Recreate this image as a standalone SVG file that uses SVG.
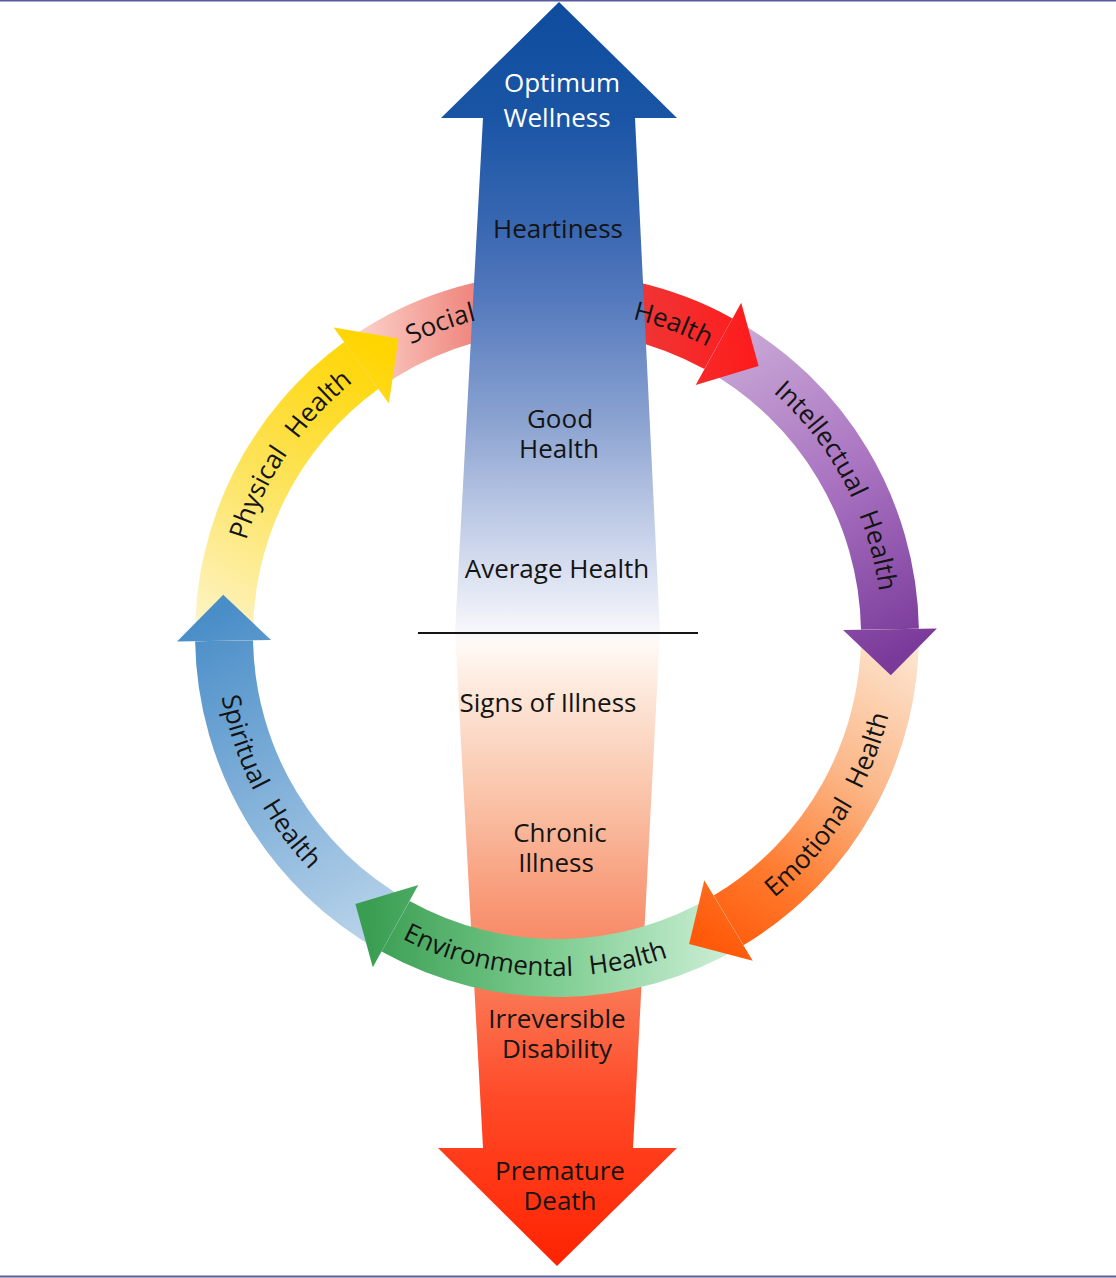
<svg xmlns="http://www.w3.org/2000/svg" width="1116" height="1278" viewBox="0 0 1116 1278">
<style>
.t{font-family:"Open Sans","Noto Sans","Liberation Sans",sans-serif;font-size:26px;fill:#141414;text-anchor:middle}
.w{fill:#ffffff}
.a{font-family:"Open Sans","Noto Sans","Liberation Sans",sans-serif;font-size:26px;fill:#141414;word-spacing:10px}
</style>
<defs>
<linearGradient id="gShaft" gradientUnits="userSpaceOnUse" x1="0" y1="0" x2="0" y2="1268">
<stop offset="0" stop-color="#0f4c9e"/>
<stop offset="0.093" stop-color="#1a55a5"/>
<stop offset="0.181" stop-color="#3a68b2"/>
<stop offset="0.236" stop-color="#5479bd"/>
<stop offset="0.331" stop-color="#8aa2d0"/>
<stop offset="0.409" stop-color="#bfcbe6"/>
<stop offset="0.472" stop-color="#e6eaf5"/>
<stop offset="0.498" stop-color="#f7f7fb"/>
<stop offset="0.508" stop-color="#fffaf6"/>
<stop offset="0.551" stop-color="#fde5d6"/>
<stop offset="0.630" stop-color="#fac3a8"/>
<stop offset="0.709" stop-color="#f89a78"/>
<stop offset="0.787" stop-color="#fb7451"/>
<stop offset="0.866" stop-color="#ff4a28"/>
<stop offset="1" stop-color="#ff2200"/>
</linearGradient>
<linearGradient id="gSocial" gradientUnits="userSpaceOnUse" x1="350" y1="360" x2="760" y2="340">
<stop offset="0" stop-color="#fcd8d0"/>
<stop offset="0.29" stop-color="#f08a82"/>
<stop offset="0.71" stop-color="#ef3535"/>
<stop offset="1" stop-color="#ff1a1a"/>
</linearGradient>
<linearGradient id="gPurple" gradientUnits="userSpaceOnUse" x1="718" y1="344" x2="890" y2="660">
<stop offset="0" stop-color="#c9a8d6"/>
<stop offset="0.5" stop-color="#a872c0"/>
<stop offset="1" stop-color="#7a3a9a"/>
</linearGradient>
<linearGradient id="gOrange" gradientUnits="userSpaceOnUse" x1="890" y1="630" x2="700" y2="935">
<stop offset="0" stop-color="#fde6d2"/>
<stop offset="0.4" stop-color="#fbb889"/>
<stop offset="0.75" stop-color="#ff7a2e"/>
<stop offset="1" stop-color="#ff5a0a"/>
</linearGradient>
<linearGradient id="gGreen" gradientUnits="userSpaceOnUse" x1="729" y1="920" x2="370" y2="915">
<stop offset="0" stop-color="#cbeed5"/>
<stop offset="0.5" stop-color="#7ccc8f"/>
<stop offset="1" stop-color="#3a9e52"/>
</linearGradient>
<linearGradient id="gBlue" gradientUnits="userSpaceOnUse" x1="396" y1="926" x2="224" y2="610">
<stop offset="0" stop-color="#b9d3ea"/>
<stop offset="1" stop-color="#4a8ec8"/>
</linearGradient>
<linearGradient id="gYellow" gradientUnits="userSpaceOnUse" x1="224" y1="641" x2="385" y2="350">
<stop offset="0" stop-color="#fdf4c8"/>
<stop offset="0.5" stop-color="#fde35a"/>
<stop offset="1" stop-color="#ffd500"/>
</linearGradient>
<path id="pSocial" d="M 261.2 500.2 A 325 325 0 0 1 691.8 339.2"/>
<path id="pHealthR" d="M 422.2 339.2 A 325 325 0 0 1 852.8 500.2"/>
<path id="pPhysical" d="M 238.0 697.0 A 325 325 0 0 1 495.0 316.0"/>
<path id="pIntellectual" d="M 652.0 324.2 A 325 325 0 0 1 867.8 730.0"/>
<path id="pEmotional" d="M 633.7 967.3 A 341 341 0 0 0 889.3 558.3"/>
<path id="pEnvironmental" d="M 299.6 858.7 A 341 341 0 0 0 780.7 892.4"/>
<path id="pSpiritual" d="M 232.7 529.6 A 341 341 0 0 0 451.6 959.3"/>
</defs>
<rect x="0" y="0" width="1116" height="1278" fill="#ffffff"/>
<line x1="0" y1="0.75" x2="1116" y2="0.75" stroke="#5b5b9b" stroke-width="1.5"/>
<line x1="0" y1="1276.5" x2="1116" y2="1276.5" stroke="#5b5b9b" stroke-width="2"/>

<g id="social-health-band">
<path d="M 344.2 342.1 A 362 362 0 0 1 732.5 318.4 L 704.4 369.1 A 304 304 0 0 0 378.3 389.1 Z" fill="url(#gSocial)"/>
</g>

<g id="wellness-continuum">
<path d="M 559 2 L 677 118 L 635 118 L 660 632 L 633 1148 L 677 1148 L 557 1266 L 438 1148 L 483 1148 L 455 632 L 483 118 L 441 118 Z" fill="url(#gShaft)"/>
<line x1="418" y1="633" x2="698" y2="633" stroke="#141414" stroke-width="2"/>
</g>

<g id="connectors">
<path id="intellectual-band" d="M 732.5 318.4 A 362 362 0 0 1 918.9 628.7 L 861.0 629.7 A 304 304 0 0 0 704.4 369.1 Z" fill="url(#gPurple)"/>
<path id="emotional-band" d="M 918.9 628.7 A 362 362 0 0 1 743.4 945.3 L 713.6 895.6 A 304 304 0 0 0 861.0 629.7 Z" fill="url(#gOrange)"/>
<path id="environmental-band" d="M 743.4 945.3 A 362 362 0 0 1 381.5 951.6 L 409.6 900.9 A 304 304 0 0 0 713.6 895.6 Z" fill="url(#gGreen)"/>
<path id="spiritual-band" d="M 381.5 951.6 A 362 362 0 0 1 195.1 641.3 L 253.0 640.3 A 304 304 0 0 0 409.6 900.9 Z" fill="url(#gBlue)"/>
<path id="physical-band" d="M 195.1 641.3 A 362 362 0 0 1 344.2 342.1 L 378.3 389.1 A 304 304 0 0 0 253.0 640.3 Z" fill="url(#gYellow)"/>
<polygon id="social-head" points="741.2,302.7 758.6,366.1 695.7,384.9" fill="url(#gSocial)"/>
<polygon id="intellectual-head" points="936.9,628.4 890.8,675.2 843.0,630.0" fill="url(#gPurple)"/>
<polygon id="emotional-head" points="752.7,960.7 689.1,944.1 704.3,880.2" fill="url(#gOrange)"/>
<polygon id="environmental-head" points="372.8,967.3 355.4,903.9 418.3,885.1" fill="url(#gGreen)"/>
<polygon id="spiritual-head" points="177.1,641.6 223.2,594.8 271.0,640.0" fill="url(#gBlue)"/>
<polygon id="physical-head" points="333.6,327.6 398.5,338.6 388.9,403.6" fill="url(#gYellow)"/>
</g>

<g id="continuum-labels">
<text class="t w" x="562" y="92">Optimum</text>
<text class="t w" x="557" y="127">Wellness</text>
<text class="t" x="558" y="238">Heartiness</text>
<text class="t" x="560" y="428">Good</text>
<text class="t" x="559" y="458">Health</text>
<text class="t" x="557" y="578">Average Health</text>
<text class="t" x="548" y="712">Signs of Illness</text>
<text class="t" x="560" y="842">Chronic</text>
<text class="t" x="556" y="872">Illness</text>
<text class="t" x="557" y="1028">Irreversible</text>
<text class="t" x="557" y="1058">Disability</text>
<text class="t" x="560" y="1180">Premature</text>
<text class="t" x="560" y="1210">Death</text>
</g>

<g id="dimension-labels">
<text class="a" text-anchor="middle"><textPath href="#pSocial" startOffset="50%">Social</textPath></text>
<text class="a" text-anchor="middle"><textPath href="#pHealthR" startOffset="50%">Health</textPath></text>
<text class="a" text-anchor="middle"><textPath href="#pPhysical" startOffset="50%">Physical Health</textPath></text>
<text class="a" text-anchor="middle"><textPath href="#pIntellectual" startOffset="50%">Intellectual Health</textPath></text>
<text class="a" text-anchor="middle"><textPath href="#pEmotional" startOffset="50%">Emotional Health</textPath></text>
<text class="a" text-anchor="middle"><textPath href="#pEnvironmental" startOffset="50%">Environmental Health</textPath></text>
<text class="a" text-anchor="middle"><textPath href="#pSpiritual" startOffset="50%">Spiritual Health</textPath></text>
</g>
</svg>
